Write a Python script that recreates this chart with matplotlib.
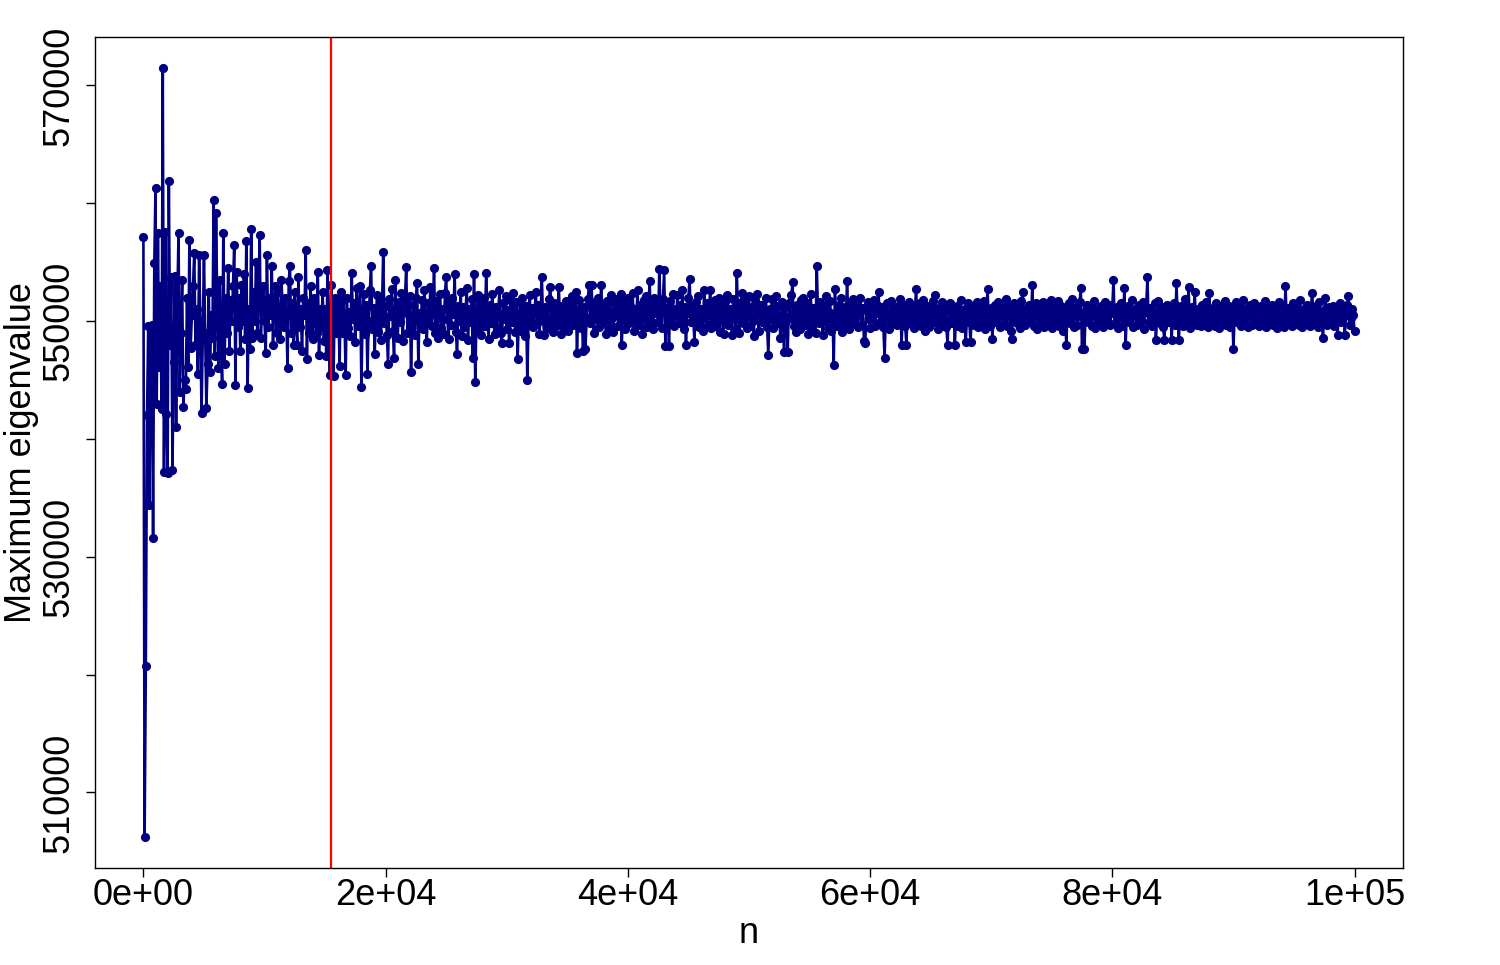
import numpy as np
import matplotlib.pyplot as plt

# maximum eigenvalue (in thousands), one value per 100 steps of n
eig_early = [
    557.1, 506.2, 520.7, 542.0, 549.6, 534.4, 547.6, 549.7, 531.6, 554.9,
    561.3, 543.0, 557.5, 546.1, 553.0, 542.5, 571.5, 537.2, 557.6, 542.1,
    537.1, 561.9, 548.0, 553.7, 537.4, 546.5, 553.8, 541.0, 551.5, 557.5,
    544.0, 549.0, 553.5, 542.7, 545.0, 544.2, 552.0, 546.1, 556.9, 547.7,
    550.5, 553.0, 555.8, 548.0, 551.0, 545.5, 555.6, 550.0, 542.2, 548.5,
    555.6, 549.0, 542.6, 546.4, 552.5, 545.7, 550.5, 548.6, 560.3, 547.0,
    559.2, 551.0, 546.0, 553.5, 548.0, 544.7, 557.5, 546.4, 552.0, 549.0,
    554.5, 547.5, 551.8, 550.0, 553.0, 556.5, 544.6, 554.2, 549.5, 552.0,
    547.5, 553.1, 550.0, 554.0, 548.5, 556.8, 544.3, 551.0, 547.6, 557.8,
    548.6, 552.5, 550.0, 555.0, 549.0, 552.0, 557.3, 548.6, 551.5, 553.0,
    550.0, 547.3, 555.6, 549.5, 552.0, 550.5, 554.7, 548.0, 551.5, 553.0,
    549.0, 552.5, 550.0, 548.5, 553.5, 551.0, 549.5, 552.0, 550.5, 546.0,
    553.4, 554.7, 549.0, 551.5, 548.0, 552.5, 550.0, 548.0, 553.7, 549.5,
    551.0, 547.5, 552.0, 550.5, 556.0, 546.8, 551.5, 549.0, 553.0, 550.5,
    548.5, 552.0, 550.0, 549.0, 554.2, 547.1, 551.0, 549.5, 552.5, 548.3,
    551.0, 547.0, 554.3, 549.5, 545.4, 553.1, 550.0, 545.3, 552.0, 549.0,
    551.5,
]

eig_mid = [
    551.2, 546.2, 552.5, 549.0, 551.8, 550.3, 545.4, 552.0, 549.4, 550.8,
    548.7, 554.1, 550.2, 551.5, 548.2, 552.8, 549.6, 551.0, 553.0, 544.4,
    550.5, 552.3, 548.9, 551.4, 545.5, 550.0, 552.6, 554.7, 549.3, 551.1,
    547.2, 550.6, 552.2, 549.1, 551.7, 548.4, 550.9, 555.9, 549.8, 551.3,
    548.8, 546.4, 551.9, 550.4, 552.7, 549.2, 546.9, 553.5, 550.1, 548.6,
    551.6, 549.9, 552.4, 548.3, 550.8, 551.9, 554.6, 549.0, 550.5, 552.1,
    545.7, 550.3, 551.4, 548.8, 552.0, 553.2, 546.4, 550.7, 549.5, 551.8,
    549.3, 552.6, 550.0, 548.2, 551.5, 550.4, 552.9, 549.6, 551.1, 554.5,
    549.0, 551.7, 548.6, 550.9, 552.3, 549.4, 551.0, 548.9, 552.4, 553.7,
    550.2, 548.5, 551.6, 549.7, 552.0, 550.6, 554.0, 549.1, 547.2, 551.3,
    550.0, 552.5, 548.7, 551.2, 549.5, 550.8, 552.8, 548.4, 551.0, 549.9,
    551.9, 546.9, 554.0, 544.8, 550.4, 552.2, 549.3, 551.5, 548.8, 550.7,
    552.0, 549.6, 554.1, 550.3, 548.5, 551.4, 549.8, 552.3, 550.1, 548.9,
    551.2, 549.4, 550.7, 552.6, 549.0, 548.1, 551.5, 550.2, 552.1, 549.3,
    550.9, 548.1, 551.8, 549.9, 552.4, 550.5, 549.1, 551.6, 546.8, 550.3,
    551.7, 549.2, 552.0, 550.6, 548.7, 551.3, 545.0, 550.0, 552.2, 549.7,
    551.1, 549.5, 550.8, 552.5, 549.8, 551.4, 548.9, 550.6, 553.7, 550.1,
    548.8, 551.2, 550.3, 549.4, 551.9, 552.9, 550.0, 549.1, 551.5, 550.4,
    549.6, 551.0, 552.9, 550.2, 548.9, 551.3, 550.1, 549.5, 551.7, 550.6,
    549.2, 551.4, 550.0, 552.1, 549.7, 550.9, 552.5, 547.3, 550.6, 551.8,
    549.4, 550.7, 547.5, 551.2, 547.6, 550.3, 551.9, 553.1, 549.8, 553.1,
    550.5, 549.0, 551.6, 550.2, 552.0, 549.5, 550.8, 553.1, 549.9, 551.3,
    550.1, 548.9, 551.7, 550.6, 549.4, 552.2, 550.3, 549.1, 551.5, 550.8,
    551.9, 549.6, 550.4, 552.3, 548.0, 550.9, 551.6, 549.3, 550.7, 552.0,
    549.8, 551.3, 550.5, 552.4, 549.2, 551.0, 550.1, 552.6, 549.7, 551.4,
    550.6, 548.9, 551.8, 550.2, 552.1, 549.5, 551.2, 553.4, 550.0, 551.6,
    549.3, 552.0, 550.7, 551.5, 549.9, 554.4, 550.8, 549.4, 551.9, 554.3,
    547.9, 551.1, 550.4, 547.9, 551.7, 550.2, 552.3, 549.6, 551.0, 550.5,
    552.2, 549.8, 551.4, 550.1, 552.6, 549.3, 551.2, 548.0, 550.7, 552.0,
    553.6, 549.9, 551.3, 550.4, 548.2, 551.6, 550.0, 552.1, 549.5, 551.0,
    550.6, 549.2, 552.6, 550.3, 551.5, 549.7, 550.9, 552.6, 549.4, 551.2,
    550.1, 551.8, 549.6, 550.8, 552.0, 549.1, 551.3, 550.5, 548.9, 551.6,
    550.2, 552.2, 549.7, 551.0, 550.4, 548.8, 551.9, 550.6, 549.3, 554.1,
    550.3, 549.0, 551.5, 552.4, 549.8, 550.9, 551.7, 549.4, 550.5, 552.1,
    549.6, 551.2, 550.0, 548.7, 551.8, 550.3, 552.3, 549.2, 550.8, 551.4,
    549.9, 551.1, 550.4, 552.0, 549.5, 547.1, 551.0, 550.2, 551.9, 549.4,
    550.7, 552.1, 549.8, 551.3, 550.1, 548.6, 551.6, 550.5, 547.4, 551.2,
    550.0, 547.4, 551.5, 550.3, 552.2, 553.3, 549.6, 550.8, 549.1, 551.4,
    550.6, 549.3, 551.8, 550.1, 552.0, 549.7, 550.9, 551.5, 548.9, 550.4,
    552.3, 549.5, 551.1, 550.2, 549.0, 554.7, 550.7, 549.8, 551.6, 550.3,
    548.8, 551.3, 550.0, 552.1, 549.4, 550.8, 551.7, 549.2, 550.5, 546.3,
    552.7, 550.1, 549.6, 551.4, 550.3, 552.0, 549.1, 550.9, 551.2, 549.7,
]

eig_late = [
    553.4, 550.4, 549.3, 551.5, 550.0, 551.9, 549.8, 550.6, 551.3, 549.5,
    550.8, 552.0, 549.7, 551.1, 548.3, 548.1, 550.9, 551.6, 550.2, 549.4,
    551.0, 550.3, 551.8, 549.6, 550.7, 551.4, 552.5, 549.9, 550.5, 551.2,
    549.5, 546.9, 550.8, 551.5, 550.1, 549.3, 551.7, 550.4, 549.8, 551.1,
    550.6, 549.7, 551.3, 550.0, 551.9, 548.0, 550.7, 551.4, 549.6, 548.0,
    550.9, 551.6, 549.9, 550.5, 551.2, 549.4, 550.8, 552.7, 549.8, 550.3,
    551.5, 549.6, 550.9, 551.8, 549.2, 550.6, 551.3, 550.0, 549.5, 551.0,
    550.4, 551.7, 549.9, 552.2, 550.5, 549.3, 551.1, 550.2, 551.6, 549.7,
    550.8, 551.4, 549.5, 548.0, 550.9, 551.5, 549.8, 550.3, 551.2, 548.0,
    550.6, 551.3, 549.6, 550.1, 551.8, 549.4, 550.7, 551.0, 548.2, 550.4,
    551.5, 549.9, 548.2, 550.8, 551.2, 549.7, 550.3, 551.6, 549.5, 550.9,
    551.3, 549.8, 550.5, 551.7, 549.3, 550.6, 552.7, 550.0, 549.6, 551.1,
    548.5, 550.7, 551.4, 549.9, 550.3, 551.6, 549.5, 550.8, 551.2, 549.7,
    550.4, 551.9, 549.6, 550.9, 551.3, 549.2, 548.5, 550.6, 551.5, 550.0,
    549.8, 551.1, 550.5, 549.4, 551.7, 552.5, 550.2, 549.7, 551.0, 550.6,
    551.4, 549.9, 550.3, 553.1, 549.6, 550.8, 551.5, 549.3, 550.7, 551.2,
    549.8, 550.5, 551.6, 549.5, 550.9, 551.3, 549.7, 550.2, 551.8, 549.4,
    550.6, 551.1, 549.9, 550.4, 551.7, 549.6, 550.8, 551.3, 549.2, 550.5,
    551.0, 548.0, 550.7, 551.5, 549.8, 550.3, 551.9, 549.5, 550.9, 551.2,
    549.7, 550.4, 551.6, 552.8, 547.6, 550.6, 547.6, 550.9, 551.4, 549.9,
    550.5, 551.2, 549.6, 550.8, 551.7, 549.4, 550.3, 551.0, 549.8, 550.6,
    551.3, 549.5, 550.9, 551.6, 549.9, 550.2, 551.4, 549.7, 550.7, 551.1,
    553.5, 549.8, 550.5, 551.2, 549.4, 550.9, 551.5, 549.6, 550.3, 552.8,
    548.0, 550.7, 551.3, 549.9, 550.4, 551.8, 549.5, 550.8, 551.0, 549.7,
    550.6, 551.4, 549.8, 550.2, 551.6, 549.3, 550.9, 551.2, 553.7, 549.9,
    550.5, 551.1, 549.6, 550.8, 551.5, 548.4, 550.3, 551.7, 549.8, 550.6,
    551.2, 549.5, 548.4, 550.9, 551.4, 549.9, 550.4, 551.0, 548.4, 550.7,
    551.5, 549.7, 553.2, 550.2, 548.4, 550.8, 551.3, 549.6, 550.5, 551.9,
    549.8, 550.6, 552.9, 549.4, 550.9, 551.2, 549.9, 552.5, 550.3, 549.7,
    551.0, 550.5, 549.6, 551.4, 550.1, 549.8, 551.6, 550.4, 549.5, 552.4,
    550.7, 549.9, 551.1, 550.3, 549.6, 551.5, 550.8, 549.4, 550.6, 551.2,
    549.8, 550.5, 551.7, 549.7, 550.2, 551.3, 549.5, 550.9, 551.0, 547.6,
    550.4, 551.6, 549.9, 550.7, 551.2, 549.6, 550.3, 551.8, 549.8, 550.5,
    551.1, 549.5, 550.8, 551.4, 549.7, 550.2, 551.5, 549.9, 550.6, 551.0,
    549.6, 550.9, 551.3, 549.8, 550.4, 551.7, 549.5, 550.7, 551.2, 549.9,
    550.5, 551.4, 549.7, 550.8, 551.0, 549.4, 550.3, 551.6, 549.8, 550.6,
    551.3, 549.5, 553.0, 550.2, 549.9, 551.1, 550.7, 549.6, 551.5, 550.4,
    549.8, 551.2, 550.5, 549.7, 551.8, 550.0, 549.5, 551.0, 550.8, 549.9,
    551.4, 550.3, 549.6, 551.1, 552.4, 550.6, 549.8, 551.3, 550.2, 549.5,
    551.6, 550.4, 549.9, 548.6, 550.9, 552.0, 549.7, 550.5, 551.2, 549.8,
    550.6, 551.3, 549.6, 550.2, 551.0, 548.8, 550.7, 551.5, 549.9, 550.4,
    551.1, 548.8, 550.6, 551.4, 552.1, 549.7, 550.3, 551.0, 550.5, 549.2,
]

n_step = 100
burn_in = 15500
x_ticks = [0, 20000, 40000, 60000, 80000, 100000]
x_ticklabels = ["0e+00", "2e+04", "4e+04", "6e+04", "8e+04", "1e+05"]
y_ticks = [510000, 520000, 530000, 540000, 550000, 560000, 570000]
y_ticklabels = ["510000", "", "530000", "", "550000", "", "570000"]

eig = np.array(eig_early + eig_mid + eig_late) * 1000
n = np.arange(len(eig)) * n_step

plt.rcParams['font.family'] = ['Liberation Sans', 'DejaVu Sans']

fig = plt.figure(figsize=(15, 9.65), dpi=100)
ax = fig.add_axes([0.0633, 0.1005, 0.872, 0.8612])

ax.plot(n, eig, '-', color='#000080', lw=1.9)
ax.plot(n, eig, 'o', color='#000080', ms=6.6, mew=0)
ax.axvline(burn_in, color='red', lw=1.6)

# R-style 4% padding
pad_x = 0.04 * (n.max() - n.min())
pad_y = 0.04 * (eig.max() - eig.min())
ax.set_xlim(n.min() - pad_x, n.max() + pad_x)
ax.set_ylim(eig.min() - pad_y, eig.max() + pad_y)

ax.set_xticks(x_ticks)
ax.set_xticklabels(x_ticklabels)
ax.set_yticks(y_ticks)
ax.set_yticklabels(y_ticklabels, rotation=90, va='center')
ax.tick_params(axis='both', labelsize=26, length=6.5, width=1, direction='out')
ax.tick_params(axis='x', pad=1)
ax.tick_params(axis='y', pad=7)

for s in ax.spines.values():
    s.set_linewidth(1)

ax.set_xlabel('n', fontsize=26, labelpad=2)
ax.set_ylabel('Maximum eigenvalue', fontsize=26, labelpad=2)
ax.yaxis.set_label_coords(-0.043, 0.5)

fig.savefig('out.png', dpi=100)
